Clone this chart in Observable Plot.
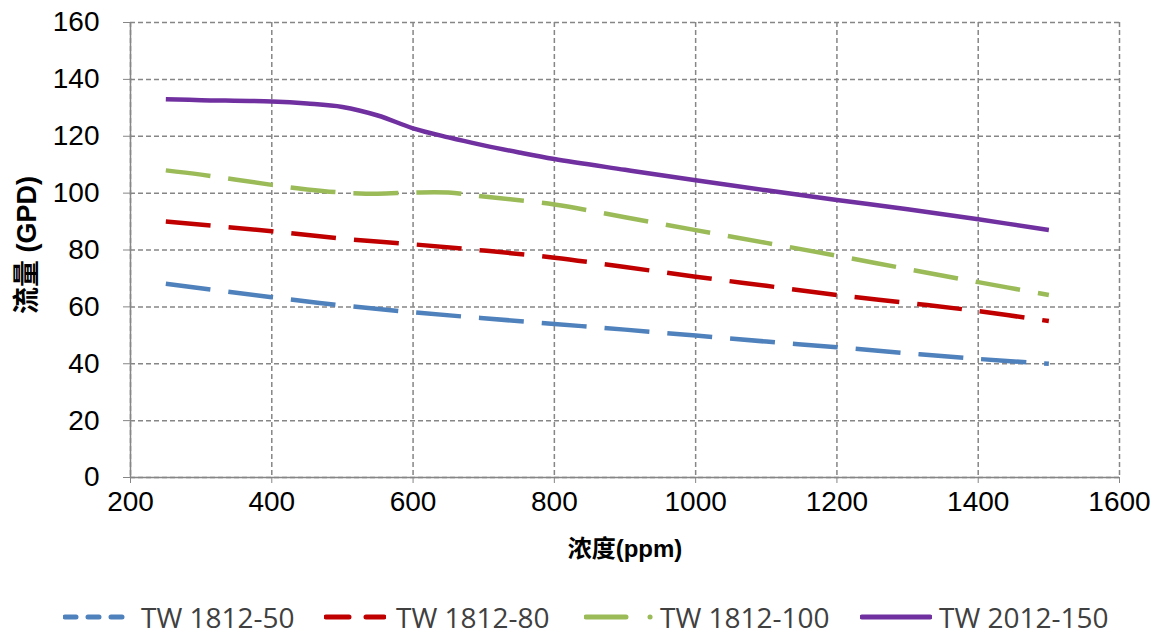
<!DOCTYPE html>
<html>
<head>
<meta charset="utf-8">
<script src="https://cdn.jsdelivr.net/npm/d3@7"></script>
<script src="https://cdn.jsdelivr.net/npm/@observablehq/plot@0.6"></script>
<style>
  html, body { margin: 0; padding: 0; background: #fff; }
  #chart svg { display: block; }
  #legend { position: relative; width: 1157px; height: 48px; font-family: "Open Sans", sans-serif; font-size: 28px; line-height: 28px; color: #404040; }
  .item { position: absolute; top: 13px; height: 28px; display: flex; align-items: center; white-space: nowrap; }
  .item svg { display: block; }
  .item span { line-height: 28px; }
</style>
</head>
<body>
<div id="chart"></div>
<div id="legend"></div>
<script>
// ---- data ----
const seriesNames = ["TW 1812-50", "TW 1812-80", "TW 1812-100", "TW 2012-150"];
const seriesColors = ["#4F81BD", "#C00000", "#9BBB59", "#7030A0"];

const x1812_50 = [250, 400, 500, 600, 700, 800, 900, 1000, 1100, 1200, 1300, 1400, 1500];
const y1812_50 = [68.1, 63.4, 60.5, 58.1, 56.0, 54.0, 52.0, 49.9, 47.8, 45.8, 43.7, 41.7, 40.0];

const x1812_80 = [250, 400, 500, 600, 700, 800, 900, 1000, 1100, 1200, 1300, 1400, 1500];
const y1812_80 = [90.0, 86.6, 84.0, 82.0, 79.8, 77.3, 74.0, 70.6, 67.4, 64.2, 61.4, 58.5, 55.0];

const x1812_100 = [250, 300, 400, 450, 500, 550, 600, 650, 700, 800, 900, 1000, 1100, 1200, 1300, 1400, 1500];
const y1812_100 = [108.0, 106.5, 102.9, 101.3, 100.2, 99.8, 100.2, 100.2, 98.8, 96.0, 91.5, 87.0, 82.5, 78.0, 73.3, 68.7, 64.2];

const x2012_150 = [250, 300, 400, 450, 500, 550, 600, 650, 700, 750, 800, 900, 1000, 1100, 1200, 1300, 1400, 1500];
const y2012_150 = [133.0, 132.7, 132.2, 131.5, 130.3, 127.3, 122.8, 119.6, 116.8, 114.3, 112.0, 108.2, 104.5, 101.0, 97.6, 94.3, 90.8, 87.0];

const xTicks = [200, 400, 600, 800, 1000, 1200, 1400, 1600];
const yTicks = [0, 20, 40, 60, 80, 100, 120, 140, 160];
const xLabel = "浓度(ppm)";
const yLabel = "流量 (GPD)";

// ---- build table ----
const seriesX = [x1812_50, x1812_80, x1812_100, x2012_150];
const seriesY = [y1812_50, y1812_80, y1812_100, y2012_150];
const rows = [];
seriesNames.forEach((name, i) => {
  seriesX[i].forEach((x, j) => rows.push({series: name, x, y: seriesY[i][j]}));
});
const dashes = ["45,18", "45,18", "45,18", null];

const gridStyle = {stroke: "#868686", strokeOpacity: 1, strokeWidth: 1.5, strokeDasharray: "5,3"};

const lineMarks = seriesNames.map((name, i) =>
  Plot.line(rows.filter(d => d.series === name), {
    x: "x", y: "y", stroke: seriesColors[i], strokeWidth: 4.5,
    strokeDasharray: dashes[i] || undefined, curve: "catmull-rom", strokeLinecap: "butt"
  })
);

const chart = Plot.plot({
  width: 1157,
  height: 590,
  marginLeft: 130,
  marginRight: 38,
  marginTop: 22,
  marginBottom: 113,
  style: {fontFamily: "'Liberation Sans', Arial, sans-serif", fontSize: "28px", color: "#000", background: "#fff"},
  x: {domain: [200, 1600]},
  y: {domain: [0, 160]},
  marks: [
    Plot.gridX(xTicks, gridStyle),
    Plot.gridY(yTicks, gridStyle),
    Plot.ruleX([200], {stroke: "#868686", strokeWidth: 1.5}),
    Plot.ruleY([0], {stroke: "#868686", strokeWidth: 1.5}),
    Plot.axisX(xTicks, {tickSize: 6, tickPadding: 8, stroke: "#868686", fill: "#000", label: null, fontSize: 28, tickFormat: d => String(d)}),
    Plot.axisY(yTicks, {tickSize: 7, tickPadding: 24, stroke: "#868686", fill: "#000", label: null, fontSize: 28, tickFormat: d => String(d)}),
    ...lineMarks,
    Plot.text([xLabel], {frameAnchor: "bottom", textAnchor: "middle", lineAnchor: "middle", dy: 72, fontWeight: "bold", fontSize: 24, fill: "#000",
      fontFamily: "'Liberation Sans', 'Noto Sans CJK SC', sans-serif"}),
    Plot.text([yLabel], {frameAnchor: "left", textAnchor: "middle", lineAnchor: "middle", dx: -103, dy: -5, rotate: -90, fontWeight: "bold", fontSize: 27, fill: "#000",
      fontFamily: "'Liberation Sans', 'Noto Sans CJK SC', sans-serif"})
  ]
});
document.getElementById("chart").appendChild(chart);

// ---- legend ----
const legend = document.getElementById("legend");
const legendLeft = [63, 324, 584, 860];
const samples = [
  `<svg width="62" height="10" style="margin-right:16px"><line x1="2" y1="5" x2="60" y2="5" stroke="${seriesColors[0]}" stroke-width="5" stroke-linecap="round" stroke-dasharray="11,12"/></svg>`,
  `<svg width="62" height="10" style="margin-right:10px"><line x1="2" y1="5" x2="60" y2="5" stroke="${seriesColors[1]}" stroke-width="5" stroke-linecap="round" stroke-dasharray="23,17"/></svg>`,
  `<svg width="70" height="10" style="margin-right:6px"><line x1="2" y1="5" x2="68" y2="5" stroke="${seriesColors[2]}" stroke-width="5" stroke-linecap="round" stroke-dasharray="40,24,0.1,100"/></svg>`,
  `<svg width="72" height="10" style="margin-right:7px"><line x1="2" y1="5" x2="70" y2="5" stroke="${seriesColors[3]}" stroke-width="5" stroke-linecap="round"/></svg>`
];
seriesNames.forEach((name, i) => {
  const div = document.createElement("div");
  div.className = "item";
  div.style.left = legendLeft[i] + "px";
  div.innerHTML = samples[i] + `<span>${name}</span>`;
  legend.appendChild(div);
});
</script>
</body>
</html>
